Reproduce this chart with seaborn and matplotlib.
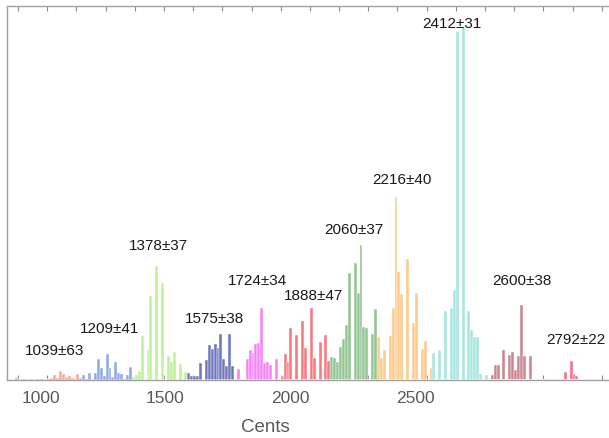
import numpy as np
import pandas as pd
import seaborn as sns
import matplotlib.pyplot as plt

sns.set_theme(style="white")
plt.rcParams['font.family'] = ['Liberation Sans', 'DejaVu Sans']

# ---- data: histogram counts (bin width 10 cents), per cluster ----
cluster_names = ["1039±63", "1209±41", "1378±37", "1575±38", "1724±34", "1888±47",
                 "2060±37", "2216±40", "2412±31", "2600±38", "2792±22"]
cluster_starts = [880, 1110, 1290, 1480, 1640, 1810, 1970, 2130, 2320, 2510, 2760]

counts_1039 = [0, 2, 0, 1, 1, 0, 1, 0, 1, 1, 1, 0, 1, 2, 5, 2, 9, 6, 3, 4, 2, 1, 6, 2]
counts_1209 = [0, 5, 1, 7, 0, 7, 21, 12, 4, 26, 12, 3, 18, 7, 6, 1, 5, 13]
counts_1378 = [3, 5, 9, 44, 0, 30, 84, 0, 114, 0, 97, 0, 24, 18, 28, 0, 16, 0, 8]
counts_1575 = [7, 4, 4, 4, 17, 0, 20, 35, 31, 36, 32, 46, 21, 14, 46, 14]
counts_1724 = [0, 11, 0, 0, 21, 30, 27, 36, 37, 72, 17, 18, 15, 0, 21, 0, 4]
counts_1888 = [26, 18, 52, 0, 45, 0, 59, 32, 0, 72, 22, 0, 38, 0, 45, 19]
counts_2060 = [23, 22, 18, 33, 41, 55, 107, 0, 117, 87, 135, 53, 52, 0, 46, 71]
counts_2216 = [43, 22, 30, 0, 44, 72, 183, 108, 86, 0, 121, 0, 57, 87, 0, 31, 39, 0, 12]
counts_2412 = [27, 0, 30, 0, 69, 0, 72, 90, 348, 0, 353, 0, 69, 50, 43, 43, 6, 0, 5]
counts_2600 = [0, 5, 15, 15, 0, 30, 0, 25, 28, 10, 24, 75, 24, 0, 24, 0, 1, 1, 0, 0, 1, 0, 1]
counts_2792 = [0, 8, 0, 19, 6, 4]

all_counts = [counts_1039, counts_1209, counts_1378, counts_1575, counts_1724, counts_1888,
              counts_2060, counts_2216, counts_2412, counts_2600, counts_2792]

colors = ["#f5a89f", "#8fa8e8", "#bff29a", "#7078bb", "#f683f5", "#f87a80",
          "#93c593", "#fccb8c", "#a6e6e0", "#c9878f", "#f2708d"]

# annotation anchors (cents, count units)
label_x = [1024, 1213, 1382, 1572, 1719, 1913, 2052, 2216, 2386, 2627, 2810]
label_y = [29, 51, 134, 61, 99, 84, 150, 200, 356, 99, 40]

tick_values = ["1000", "1500", "2000", "2500"]
tick_pos = [977, 1403, 1832, 2260]

rows = []
for name, start, counts in zip(cluster_names, cluster_starts, all_counts):
    for i, h in enumerate(counts):
        if h > 0:
            rows.append((name, start + 10 * i + 5, float(h)))
df = pd.DataFrame(rows, columns=["cluster", "cents", "count"])

fig = plt.figure(figsize=(6.09, 4.38), dpi=100)
ax = fig.add_axes([6.5 / 609, 58 / 438, (609 - 6.5) / 609, 374 / 438])

sns.histplot(data=df, x="cents", weights="count", hue="cluster",
             hue_order=cluster_names, palette=colors,
             binwidth=10, binrange=(880, 2830), multiple="layer", element="bars",
             alpha=1, edgecolor="white", linewidth=0.3, legend=False, ax=ax)

for name, lx, ly in zip(cluster_names, label_x, label_y):
    ax.text(lx, ly, name, ha="center", va="center", fontsize=11, color="#1a1a1a")

ax.set_xlim(860.2, 2925)
ax.set_ylim(0, 374)
ax.set_yticks([])
ax.set_ylabel("")
ax.set_xticks(tick_pos, labels=tick_values)
ax.set_xticks(np.arange(900, 3000, 100), minor=True)
ax.tick_params(axis="x", which="major", length=0, labelsize=12.5, labelcolor="#5a5a5a", pad=8)
ax.tick_params(axis="x", which="minor", length=3.5, width=0.8, color="#8a8a8a",
               direction="in", top=True, bottom=True)
ax.set_xlabel("Cents", fontsize=13.5, color="#5a5a5a")
ax.xaxis.label.set_va("center")
ax.xaxis.set_label_coords((265 - 6.5) / 602.5, (380 - 427) / 374)

for side in ["left", "top", "bottom"]:
    ax.spines[side].set_color("#a0a0a0")
    ax.spines[side].set_linewidth(1.0)
ax.spines["right"].set_visible(False)

fig.savefig("out.png", dpi=100)
